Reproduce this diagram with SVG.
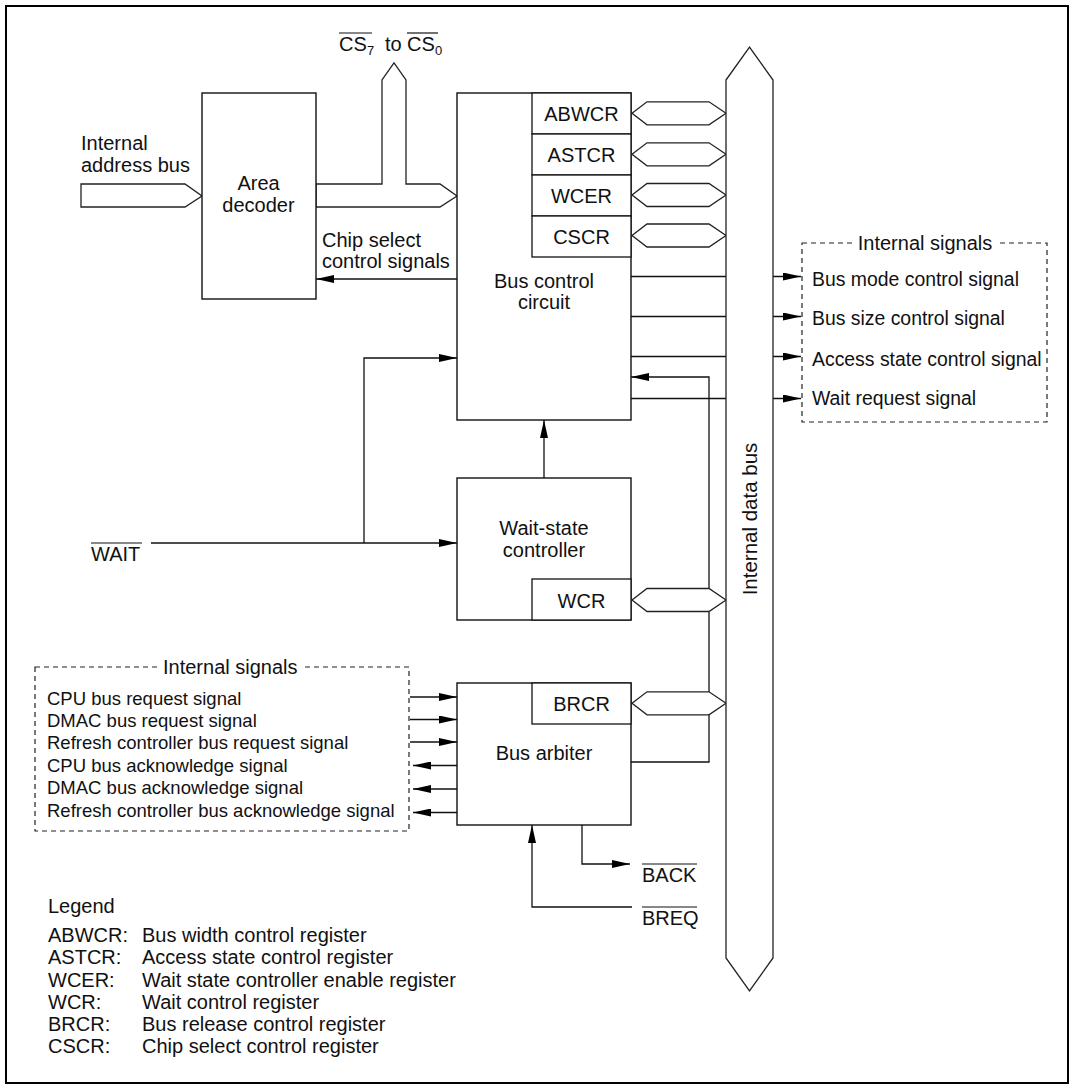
<svg xmlns="http://www.w3.org/2000/svg" width="1076" height="1091" viewBox="0 0 1076 1091">
  <defs>
    <marker id="ah" markerWidth="18" markerHeight="8" refX="18" refY="4" orient="auto" markerUnits="userSpaceOnUse">
      <path d="M0,0 L18,4 L0,8 z" fill="#000"/>
    </marker>
    <style>
      text { font-family: "Liberation Sans", Arial, sans-serif; font-size: 20px; fill: #111; }
      .c { text-anchor: middle; }
      .box { fill: #fff; stroke: #111; stroke-width: 1.4; }
      .reg { fill: #fff; stroke: #111; stroke-width: 1.3; }
      .bus { fill: #fff; stroke: #222; stroke-width: 1.3; stroke-linejoin: miter; }
      .arr { fill: none; stroke: #111; stroke-width: 1.3; marker-end: url(#ah); }
      .dash { fill: none; stroke: #222; stroke-width: 1.2; stroke-dasharray: 5 4; }
      .ov { stroke: #111; stroke-width: 1.2; }
      .sub { font-size: 13px; }
      .sl { font-size: 18.5px; }
      .sr { font-size: 19.4px; }
    </style>
  </defs>

  <rect x="0" y="0" width="1076" height="1091" fill="#fff"/>
  <rect id="frame" x="6" y="6" width="1062" height="1077" fill="none" stroke="#000" stroke-width="2"/>

  <!-- Connectors -->
  <g id="connectors">
    <path class="arr" d="M457,279 L316,279"/>
    <path class="arr" d="M151,543 L457,543"/>
    <path class="arr" d="M364,543 L364,358 L457,358"/>
    <path class="arr" d="M544,478 L544,420"/>
    <path class="arr" d="M631,276.5 L801,276.5"/>
    <path class="arr" d="M631,316.5 L801,316.5"/>
    <path class="arr" d="M631,356.5 L801,356.5"/>
    <path class="arr" d="M631,398.5 L801,398.5"/>
    <path class="arr" d="M631,762 L709,762 L709,377 L631,377"/>
    <path class="arr" d="M410,697 L457,697"/>
    <path class="arr" d="M410,719.5 L457,719.5"/>
    <path class="arr" d="M410,742 L457,742"/>
    <path class="arr" d="M457,765.5 L413,765.5"/>
    <path class="arr" d="M457,789 L413,789"/>
    <path class="arr" d="M457,812.5 L413,812.5"/>
    <path class="arr" d="M582,825 L582,864 L630,864"/>
    <path class="arr" d="M632,907 L532,907 L532,825"/>
    <!-- buses -->
    <polygon id="addr-bus" class="bus" points="81,184 185,184 202,196 185,207 81,207"/>
    <polygon id="cs-bus" class="bus" points="316,184 382,184 382,80 394,63 406,80 406,184 440,184 457,196 440,207 316,207"/>
    <polygon class="bus" points="632,113.3 647,101.8 709,101.8 726,113.3 709,124.8 647,124.8"/>
    <polygon class="bus" points="632,154.3 647,142.8 709,142.8 726,154.3 709,165.8 647,165.8"/>
    <polygon class="bus" points="632,195 647,183.5 709,183.5 726,195 709,206.5 647,206.5"/>
    <polygon class="bus" points="632,235.5 647,224 709,224 726,235.5 709,247 647,247"/>
    <polygon class="bus" points="632,600 647,588.5 709,588.5 726,600 709,611.5 647,611.5"/>
    <polygon class="bus" points="632,703.3 647,691.8 709,691.8 726,703.3 709,714.8 647,714.8"/>
  </g>

  <!-- Internal data bus -->
  <g id="internal-data-bus">
    <polygon class="bus" points="726,80 749.5,47 773,80 773,958 749.5,991 726,958"/>
    <text class="c" transform="translate(756.5,519) rotate(-90)" style="font-size:20.5px">Internal data bus</text>
  </g>

  <!-- Labels -->
  <g id="labels">
    <text x="81" y="150">Internal</text>
    <text x="81" y="172">address bus</text>
    <text x="339" y="51">CS</text>
    <text class="sub" x="367" y="55">7</text>
    <line class="ov" x1="339" y1="33" x2="372" y2="33"/>
    <text x="385" y="51">to</text>
    <text x="407" y="51">CS</text>
    <text class="sub" x="435" y="55">0</text>
    <line class="ov" x1="407" y1="33" x2="438" y2="33"/>
    <text x="322" y="247">Chip select</text>
    <text x="322" y="268">control signals</text>
    <text x="91" y="561">WAIT</text>
    <line class="ov" x1="91" y1="543" x2="142" y2="543"/>
    <text x="642" y="882">BACK</text>
    <line class="ov" x1="642" y1="864" x2="697" y2="864"/>
    <text x="642" y="925">BREQ</text>
    <line class="ov" x1="642" y1="907" x2="697" y2="907"/>
  </g>

  <!-- Area decoder -->
  <g id="area-decoder">
    <rect class="box" x="202" y="93" width="114" height="206"/>
    <text class="c" x="258.5" y="190">Area</text>
    <text class="c" x="258.5" y="212">decoder</text>
  </g>

  <!-- Bus control circuit -->
  <g id="bus-control-circuit">
    <rect class="box" x="457" y="93" width="174" height="327"/>
    <rect class="reg" x="532" y="93" width="99" height="41"/>
    <rect class="reg" x="532" y="134" width="99" height="41"/>
    <rect class="reg" x="532" y="175" width="99" height="41"/>
    <rect class="reg" x="532" y="216" width="99" height="41"/>
    <text class="c" x="581.5" y="121">ABWCR</text>
    <text class="c" x="581.5" y="162">ASTCR</text>
    <text class="c" x="581.5" y="203">WCER</text>
    <text class="c" x="581.5" y="244">CSCR</text>
    <text class="c" x="544" y="288">Bus control</text>
    <text class="c" x="544" y="309">circuit</text>
  </g>

  <!-- Wait-state controller -->
  <g id="wait-state-controller">
    <rect class="box" x="457" y="478" width="174" height="142"/>
    <rect class="reg" x="532" y="579" width="99" height="41"/>
    <text class="c" x="544" y="535">Wait-state</text>
    <text class="c" x="544" y="557">controller</text>
    <text class="c" x="581.5" y="608">WCR</text>
  </g>

  <!-- Bus arbiter -->
  <g id="bus-arbiter">
    <rect class="box" x="457" y="683" width="174" height="142"/>
    <rect class="reg" x="532" y="683" width="99" height="41"/>
    <text class="c" x="581.5" y="711">BRCR</text>
    <text class="c" x="544" y="760">Bus arbiter</text>
  </g>

  <!-- Right internal signals -->
  <g id="internal-signals-right">
    <rect class="dash" x="802" y="243" width="245" height="179"/>
    <rect x="855" y="235" width="141" height="16" fill="#fff"/>
    <text class="c" x="925" y="250">Internal signals</text>
    <text class="sr" x="812" y="285.5">Bus mode control signal</text>
    <text class="sr" x="812" y="324.5">Bus size control signal</text>
    <text class="sr" x="812" y="365.5">Access state control signal</text>
    <text class="sr" x="812" y="405">Wait request signal</text>
  </g>

  <!-- Left internal signals -->
  <g id="internal-signals-left">
    <rect class="dash" x="35" y="667" width="374" height="164"/>
    <rect x="160" y="659" width="141" height="16" fill="#fff"/>
    <text x="163" y="674">Internal signals</text>
    <text class="sl" x="47" y="705">CPU bus request signal</text>
    <text class="sl" x="47" y="727">DMAC bus request signal</text>
    <text class="sl" x="47" y="749">Refresh controller bus request signal</text>
    <text class="sl" x="47" y="772">CPU bus acknowledge signal</text>
    <text class="sl" x="47" y="794">DMAC bus acknowledge signal</text>
    <text class="sl" x="47" y="817">Refresh controller bus acknowledge signal</text>
  </g>

  <!-- Legend -->
  <g id="legend">
    <text x="48" y="913">Legend</text>
    <text x="48" y="942">ABWCR:</text><text x="142" y="942">Bus width control register</text>
    <text x="48" y="964">ASTCR:</text><text x="142" y="964">Access state control register</text>
    <text x="48" y="987">WCER:</text><text x="142" y="987">Wait state controller enable register</text>
    <text x="48" y="1009">WCR:</text><text x="142" y="1009">Wait control register</text>
    <text x="48" y="1031">BRCR:</text><text x="142" y="1031">Bus release control register</text>
    <text x="48" y="1053">CSCR:</text><text x="142" y="1053">Chip select control register</text>
  </g>
</svg>
